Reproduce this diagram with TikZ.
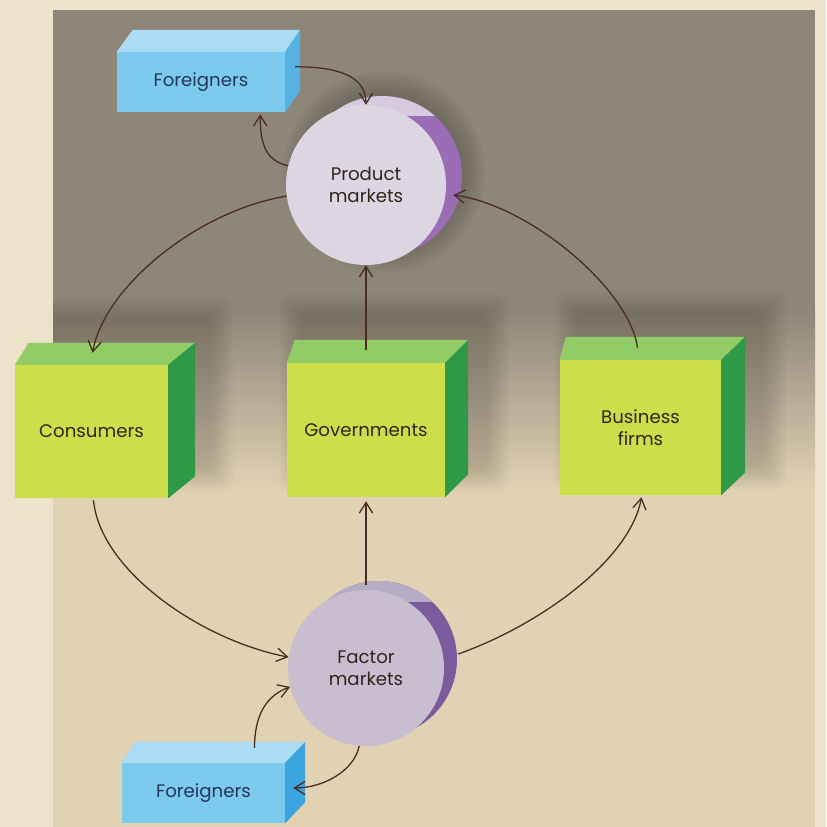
\documentclass[tikz,border=0pt]{standalone}
\usepackage{fontspec}
\setmainfont{Poppins}
\usetikzlibrary{calc,arrows.meta}
\definecolor{bgcream}{HTML}{EDE3CB}
\definecolor{bgdark}{HTML}{8E8678}
\definecolor{bgbeige}{HTML}{E2D2B4}
\definecolor{gfront}{HTML}{CCDF4A}
\definecolor{gtop}{HTML}{92CC66}
\definecolor{gside}{HTML}{2E9A48}
\definecolor{bfront}{HTML}{7CCBEF}
\definecolor{btop}{HTML}{AADDF3}
\definecolor{bside}{HTML}{3BA3DD}
\definecolor{pfront}{HTML}{DCD5E2}
\definecolor{pcap}{HTML}{D6CAE0}
\definecolor{pback}{HTML}{9A6DB6}
\definecolor{ffront}{HTML}{C8BED0}
\definecolor{fcap}{HTML}{B6ACC4}
\definecolor{fback}{HTML}{7A5C9E}
\definecolor{txtbrown}{HTML}{33241A}
\definecolor{txtblue}{HTML}{25365A}
\definecolor{arrowc}{HTML}{4A2C22}
\newcommand{\drawcube}[6]{%
  \fill[#5] (#1.north west) -- ++(#2,-#4) -- ($(#1.north east)+(#3,-#4)$) -- (#1.north east) -- cycle;
  \fill[#6] (#1.north east) -- ++(#3,-#4) -- ($(#1.south east)+(#3,-#4)$) -- (#1.south east) -- cycle;}
\newcommand{\softrect}[4]{%
  \foreach \k in {0,...,7}{\fill[black,opacity=0.018,rounded corners=8pt] ($(#1,#2)+(-3*\k,-3*\k)$) rectangle ($(#3,#4)+(3*\k,3*\k)$);}}
\begin{document}
\begin{tikzpicture}[x=0.03cm,y=-0.03cm,
  gbox/.style={fill=gfront, inner sep=0pt, align=center, text=txtbrown, font=\fontsize{15.5}{18.5}\selectfont},
  bbox/.style={fill=bfront, inner sep=0pt, align=center, text=txtblue, font=\fontsize{15.5}{18.5}\selectfont},
  mkt/.style={circle, inner sep=0pt, align=center, text=txtbrown, font=\fontsize{15.5}{18.5}\selectfont},
  flow/.style={draw=arrowc, line width=1.1pt, -{Straight Barb[length=3.2mm,width=4mm,line width=1.1pt]}}]
\useasboundingbox (0,0) rectangle (826,827);
% background
\fill[bgcream] (0,0) rectangle (826,827);
\fill[bgdark] (53,10) rectangle (815,310);
\shade[top color=bgdark, bottom color=bgbeige] (53,310) rectangle (815,490);
\fill[bgbeige] (53,490) rectangle (815,827);
% soft shadows
\begin{scope}
\clip (53,0) rectangle (815,827);
\softrect{40}{318}{212}{470}
\softrect{300}{315}{488}{470}
\softrect{575}{312}{765}{468}
\end{scope}
\foreach \k in {0,...,7}{\fill[black,opacity=0.025] (384,172) circle (80+3*\k);}

% market discs (back parts)
\node[mkt, minimum size=4.8cm, fill=pback] (prodb) at (382,176) {};
\begin{scope}
  \clip (382,176) circle (80);
  \fill[pcap] (300,80) rectangle (470,116);
\end{scope}
\node[mkt, minimum size=4.8cm, fill=pfront] (prod) at (366,185) {Product\\markets};

\node[mkt, minimum size=4.68cm, fill=fback] (facb) at (379,659) {};
\begin{scope}
  \clip (379,659) circle (78);
  \fill[fcap] (290,570) rectangle (470,602);
\end{scope}
\node[mkt, minimum size=4.68cm, fill=ffront] (fac) at (366,668) {Factor\\markets};

% boxes
\node[bbox, minimum width=5.04cm, minimum height=1.8cm] (for1) at (201,82) {Foreigners};
\drawcube{for1}{16}{15}{22}{btop}{bside!60!bfront}
\node[gbox, minimum width=4.59cm, minimum height=3.99cm] (cons) at (91.5,431.5) {Consumers};
\drawcube{cons}{14}{27}{22}{gtop}{gside}
\node[gbox, minimum width=4.74cm, minimum height=4.02cm] (gov) at (366,430) {Governments};
\drawcube{gov}{8}{23}{23}{gtop}{gside}
\node[gbox, minimum width=4.83cm, minimum height=4.05cm] (bus) at (640.5,427.5) {Business\\firms};
\drawcube{bus}{6}{24}{23}{gtop}{gside}
\node[bbox, minimum width=4.89cm, minimum height=1.8cm] (for2) at (203.5,793) {Foreigners};
\drawcube{for2}{13}{20}{21}{btop}{bside}

% connectors
\draw[flow] ($(for1.north east)+(10,15)$) .. controls +(40,0) and +(0,-30) .. (prod.north);
\draw[flow] (prod.166) .. controls +(-25,-5) and +(0,25) .. ($(for1.south east)+(-25,2)$);
\draw[flow] (prod.188) .. controls (200,210) and (105,285) .. ($(cons.north)+(1,-12)$);
\draw[flow] ($(gov.north)+(0,-13)$) -- (prod.south);
\draw[flow] ($(bus.north)+(-3,-12)$) .. controls (630,290) and (530,205) .. ($(prodb.east)+(-9,19)$);
\draw[flow] ($(cons.south)+(2,2)$) .. controls (100,570) and (200,640) .. (fac.172);
\draw[flow] ($(facb.north)+(-13,4)$) -- ($(gov.south)+(0,4)$);
\draw[flow] ($(facb.east)+(1,-5)$) .. controls (540,625) and (630,560) .. ($(bus.south)+(1,2)$);
\draw[flow] ($(for2.north)+(51,-15)$) .. controls +(0,-35) and +(-22,8) .. (fac.194);
\draw[flow] (fac.265) .. controls +(-5,25) and +(30,0) .. ($(for2.east)+(8,-5)$);
\end{tikzpicture}
\end{document}
